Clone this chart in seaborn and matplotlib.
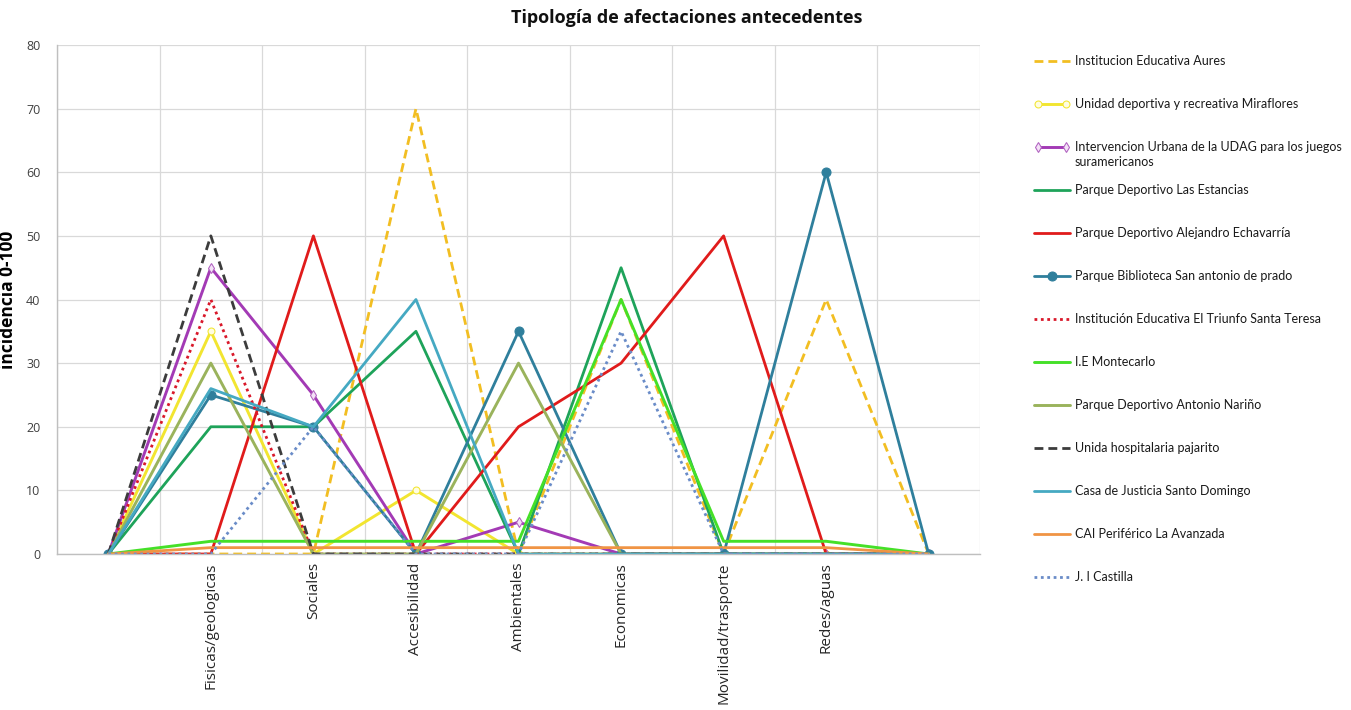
import matplotlib
matplotlib.use("Agg")
import matplotlib.pyplot as plt
from matplotlib.legend_handler import HandlerLine2D
import seaborn as sns
import pandas as pd
import numpy as np

sns.set_theme(style="white")
plt.rcParams['font.family'] = ['Open Sans', 'DejaVu Sans']

categories = ["", "Fisicas/geologicas", "Sociales", "Accesibilidad", "Ambientales",
              "Economicas", "Movilidad/trasporte", "Redes/aguas", ""]

aures = [0, 0, 0, 70, 0, 40, 0, 40, 0]
miraflores = [0, 35, 0, 10, 0, 0, 0, 0, 0]
udag = [0, 45, 25, 0, 5, 0, 0, 0, 0]
estancias = [0, 20, 20, 35, 0, 45, 0, 0, 0]
echavarria = [0, 0, 50, 0, 20, 30, 50, 0, 0]
san_antonio = [0, 25, 20, 0, 35, 0, 0, 60, 0]
triunfo = [0, 40, 0, 0, 0, 0, 0, 0, 0]
montecarlo = [0, 2, 2, 2, 2, 40, 2, 2, 0]
narino = [0, 30, 0, 0, 30, 0, 0, 0, 0]
pajarito = [0, 50, 0, 0, 0, 0, 0, 0, 0]
santo_domingo = [0, 26, 20, 40, 0, 0, 0, 0, 0]
avanzada = [0, 1, 1, 1, 1, 1, 1, 1, 0]
castilla = [0, 0, 20, 0, 0, 35, 0, 0, 0]

udag_name = "Intervencion Urbana de la UDAG para los juegos"
udag_name_cont = "suramericanos"

series = [
    ("Institucion Educativa Aures", aures,
     dict(color="#F2BE22", linestyle=(0, (3.2, 1.8)), lw=2.0)),
    ("Unidad deportiva y recreativa Miraflores", miraflores,
     dict(color="#F2E530", lw=2.1, marker="o", markersize=5,
          markerfacecolor="#FFFDE0", markeredgecolor="#F2E530")),
    (udag_name, udag,
     dict(color="#A33AB5", lw=2.1, marker="d", markersize=5,
          markerfacecolor="#F4E2F7", markeredgecolor="#B060C0")),
    ("Parque Deportivo Las Estancias", estancias,
     dict(color="#1EA35A", lw=2.0)),
    ("Parque Deportivo Alejandro Echavarría", echavarria,
     dict(color="#E01B1B", lw=2.0)),
    ("Parque Biblioteca San antonio de prado", san_antonio,
     dict(color="#2F7F9C", lw=2.0, marker="o", markersize=6.5,
          markerfacecolor="#2F7F9C", markeredgecolor="#2F7F9C")),
    ("Institución Educativa El Triunfo Santa Teresa", triunfo,
     dict(color="#D9182A", linestyle=(0, (1, 1.3)), lw=2.0)),
    ("I.E Montecarlo", montecarlo,
     dict(color="#45E028", lw=2.1)),
    ("Parque Deportivo Antonio Nariño", narino,
     dict(color="#9AB35C", lw=2.1)),
    ("Unida hospitalaria pajarito", pajarito,
     dict(color="#3C3C3C", linestyle=(0, (3.2, 1.8)), lw=2.0)),
    ("Casa de Justicia Santo Domingo", santo_domingo,
     dict(color="#45A9C2", lw=2.0)),
    ("CAI Periférico La Avanzada", avanzada,
     dict(color="#F09444", lw=2.0)),
    ("J. I Castilla", castilla,
     dict(color="#6A8CC8", linestyle=(0, (1, 1.3)), lw=2.0)),
]

fig = plt.figure(figsize=(13.51, 7.10), dpi=100)
ax = fig.add_axes([0.0422, 0.2197, 0.6832, 0.7169])

pos = np.arange(len(categories))
for name, vals, style in series:
    df = pd.DataFrame({"pos": pos, "valor": vals})
    sns.lineplot(data=df, x="pos", y="valor", ax=ax, label=name, **style)

ax.set_xlim(-0.5, len(categories) - 0.5)
ax.set_ylim(0, 80)
ax.set_yticks(np.arange(0, 81, 10))
ax.set_xticks(pos)
ax.set_xticklabels(categories, rotation=90, fontsize=11, color="#262626")
ax.set_xticks(np.arange(-0.5, len(categories), 1.0), minor=True)
ax.tick_params(axis="y", labelsize=9, colors="#404040", length=0, pad=12)
ax.tick_params(axis="x", which="both", length=0, pad=6)
ax.grid(False)
ax.grid(True, axis="y", which="major", color="#D9D9D9", lw=0.9)
ax.grid(True, axis="x", which="minor", color="#D9D9D9", lw=0.9)
ax.set_axisbelow(True)
for s in ["top", "right"]:
    ax.spines[s].set_visible(False)
for s in ["left", "bottom"]:
    ax.spines[s].set_color("#BFBFBF")
    ax.spines[s].set_linewidth(1.0)

ax.set_xlabel("")
ax.set_ylabel("incidencia 0-100", fontsize=12.5, fontweight="bold", color="#000000")
ax.yaxis.set_label_coords(-0.043, 0.5)
fig.text(0.508, 0.975, "Tipología de afectaciones antecedentes", ha="center", va="center",
         fontsize=13, fontweight="bold", color="#111111")

handles, labels = ax.get_legend_handles_labels()
hmap = {handles[1]: HandlerLine2D(numpoints=2), handles[2]: HandlerLine2D(numpoints=2)}
leg_font = dict(family=["Lato", "DejaVu Sans"], size=9.0)
leg = ax.legend(handles, labels, loc="upper left", bbox_to_anchor=(1.053, 0.99),
                frameon=False, prop=leg_font, handlelength=2.85, handletextpad=0.4,
                labelspacing=2.48, borderaxespad=0, numpoints=1, handler_map=hmap)
for t in leg.get_texts():
    t.set_color("#1A1A1A")

# continuation line of the wrapped legend label
fig.canvas.draw()
bb = leg.get_texts()[2].get_window_extent()
W, H = fig.get_size_inches() * fig.dpi
fig.text(bb.x0 / W, (bb.y0 - 3) / H, udag_name_cont, ha="left", va="top",
         fontfamily=["Lato", "DejaVu Sans"], fontsize=9.0, color="#1A1A1A")

fig.savefig("out.png", dpi=100)
